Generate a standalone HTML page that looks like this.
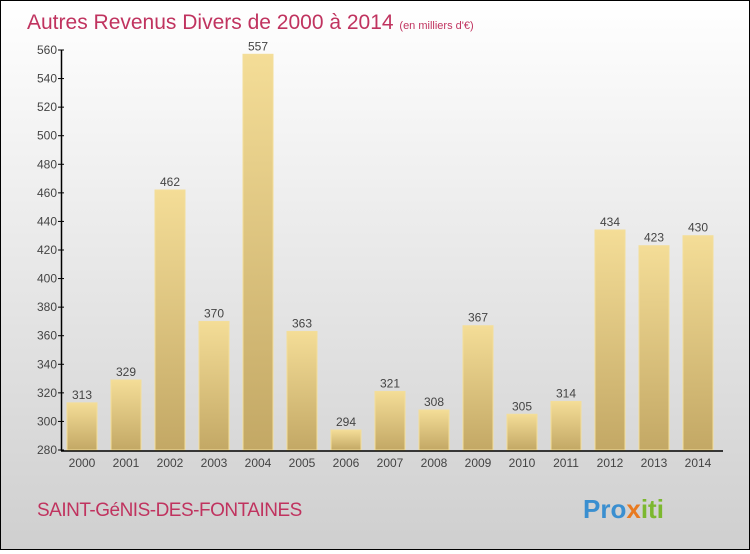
<!DOCTYPE html>
<html><head><meta charset="utf-8"><style>
body{margin:0}
#c{width:748px;height:548px;border:1px solid #000;background:linear-gradient(#ffffff,#cfcfcf);position:relative;font-family:"Liberation Sans",sans-serif}
</style></head><body>
<div id="c">
<svg width="748" height="548" id="s">
<defs><linearGradient id="g" x1="0" y1="0" x2="0" y2="1"><stop offset="0" stop-color="#f4dd97"/><stop offset="1" stop-color="#c3a865"/></linearGradient></defs>
<text x="26" y="28" font-size="21" fill="#c0335f">Autres Revenus Divers de 2000 à 2014 <tspan font-size="11">(en milliers d'€)</tspan></text>
<text x="36" y="515" font-size="19" fill="#c0335f" letter-spacing="-0.5">SAINT-GéNIS-DES-FONTAINES</text>
<text x="582" y="517" font-size="26" font-weight="bold" fill="#3a8fd0">Pro<tspan fill="#e87a20">x</tspan><tspan fill="#7cb82f">iti</tspan></text>
<g id="bars"></g><g id="axes"></g>
</svg></div>
<script>
const years=["2000","2001","2002","2003","2004","2005","2006","2007","2008","2009","2010","2011","2012","2013","2014"];
const values=[313,329,462,370,557,363,294,321,308,367,305,314,434,423,430];
const yTicks=[280,300,320,340,360,380,400,420,440,460,480,500,520,540,560];
const NS="http://www.w3.org/2000/svg";
const y=v=>449-(v-280)*(400/280);
const x=i=>81+i*44;
const bars=document.getElementById('bars'),axes=document.getElementById('axes');
function mk(t,a,p){const e=document.createElementNS(NS,t);for(const k in a)e.setAttribute(k,a[k]);p.appendChild(e);return e;}
values.forEach((v,i)=>{
 const r=mk('rect',{x:x(i)-15,y:y(v),width:30,height:449-y(v),fill:'url(#g)',stroke:'#f3de9a','stroke-width':1},bars);
 
 
 const t=mk('text',{x:x(i),y:y(v)-4,'text-anchor':'middle','font-size':12,fill:'#444'},bars);t.textContent=v;
 
 
 const l=mk('text',{x:x(i),y:466,'text-anchor':'middle','font-size':12,fill:'#444'},axes);l.textContent=years[i];
 
 
});
yTicks.forEach(v=>{
 mk('line',{x1:57,x2:63,y1:y(v),y2:y(v),stroke:'#000'},axes);
 const t=mk('text',{x:56,y:y(v)+4,'text-anchor':'end','font-size':12,fill:'#444'},axes);t.textContent=v;
 
 
});
const ya=mk('line',{x1:60.5,x2:60.5,y1:y(560),y2:450,stroke:'#000','stroke-width':1.5},axes);


const xa=mk('line',{x1:60,x2:722,y1:450,y2:450,stroke:'#000','stroke-width':1.5},axes);


</script></body></html>
